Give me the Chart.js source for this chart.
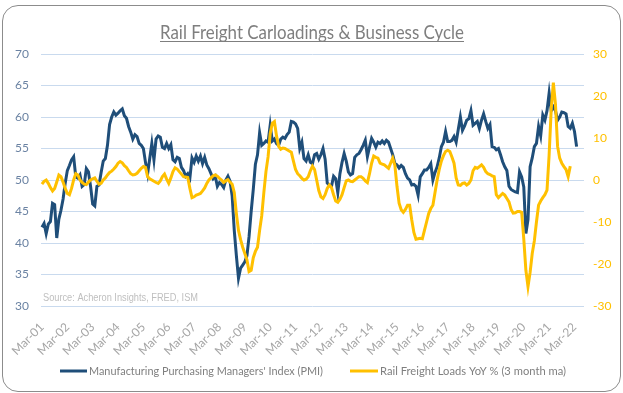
<!DOCTYPE html>
<html>
<head>
<meta charset="utf-8">
<script src="https://cdn.jsdelivr.net/npm/chart.js@4.4.0/dist/chart.umd.min.js"></script>
<style>
  html, body { margin: 0; padding: 0; background: #ffffff; }
  #wrap { position: relative; width: 623px; height: 393px; }
  #frame { position: absolute; left: 2px; top: 5px; width: 619px; height: 387px; box-sizing: border-box;
           border: 1.5px solid #8c8c8c; border-radius: 16px; pointer-events: none; }
  canvas { position: absolute; left: 0; top: 0; }
</style>
</head>
<body>
<div id="wrap">
  <canvas id="c" width="623" height="393"></canvas>
  <div id="frame"></div>
</div>
<script>
// ---- Data (monthly, first month = Mar-01) ----
const monthNames = ['Jan','Feb','Mar','Apr','May','Jun','Jul','Aug','Sep','Oct','Nov','Dec'];
const firstYear = 2001;
const firstMonth = 2;      // March
const monthCount = 257;    // Mar-01 .. Jul-22 (axis extent)
const categories = [];
for (let i = 0; i < monthCount; i++) {
  const m = (firstMonth + i) % 12;
  const y = firstYear + Math.floor((firstMonth + i) / 12);
  categories.push(monthNames[m] + '-' + String(y % 100).padStart(2, '0'));
}
const tickLabels = ['Mar-01','Mar-02','Mar-03','Mar-04','Mar-05','Mar-06','Mar-07','Mar-08','Mar-09','Mar-10','Mar-11',
                    'Mar-12','Mar-13','Mar-14','Mar-15','Mar-16','Mar-17','Mar-18','Mar-19','Mar-20','Mar-21','Mar-22'];

// Manufacturing PMI, Mar-01 .. Apr-22
const pmi = [
  42.5, 43.1, 41.5, 43.0, 43.4, 46.3, 46.1, 40.8, 43.8, 45.2, 47.0, 49.5,
  51.5, 52.3, 53.2, 53.7, 50.5, 50.3, 50.8, 49.0, 49.3, 51.8, 51.3, 49.0,
  46.2, 45.9, 49.0, 49.2, 51.2, 53.0, 53.4, 55.5, 58.8, 60.0, 60.8, 60.3,
  60.6, 61.0, 61.3, 60.2, 59.8, 58.5, 57.6, 56.5, 57.2, 56.9, 55.8, 55.5,
  55.0, 52.8, 51.0, 53.4, 55.8, 53.2, 56.5, 57.0, 56.8, 55.2, 55.0, 55.8,
  55.0, 55.6, 53.2, 52.9, 53.6, 53.4, 52.0, 51.5, 50.6, 51.0, 50.3, 53.5,
  52.8, 53.8, 53.0, 53.8, 52.6, 53.6, 52.4, 51.8, 51.0, 50.2, 50.6, 49.0,
  49.6, 49.3, 48.8, 50.0, 50.6, 49.8, 47.5, 42.0, 38.0, 34.4, 36.0, 36.5,
  37.0, 38.0, 41.0, 45.0, 48.5, 52.5, 54.0, 57.5, 55.5, 55.8, 56.2, 56.0,
  58.7, 56.2, 56.5, 55.8, 55.5, 56.5, 56.8, 56.6, 57.2, 57.6, 59.3, 59.2,
  58.9, 58.2, 55.0, 56.0, 53.4, 53.0, 54.0, 52.8, 52.6, 54.0, 54.2, 53.3,
  54.0, 55.0, 53.3, 49.5, 49.2, 49.0, 50.6, 50.2, 48.0, 51.0, 52.8, 54.2,
  53.0, 51.3, 50.8, 51.0, 53.6, 54.0, 54.2, 54.8, 55.5, 56.3, 53.7, 55.2,
  56.6, 56.0, 55.2, 56.0, 55.8, 56.2, 55.8, 56.3, 56.0, 55.0, 54.0, 52.6,
  52.4, 51.9, 52.3, 52.0, 51.0, 50.3, 50.0, 49.2, 49.3, 49.0, 47.6, 50.5,
  51.0, 51.6, 51.6, 52.0, 52.6, 50.0, 51.2, 52.1, 53.5, 55.3, 56.0, 57.7,
  56.1, 56.1, 56.3, 56.9, 56.0, 58.0, 60.0, 57.9, 58.6, 59.5, 59.7, 61.0,
  58.7, 59.0, 59.3, 58.2, 59.5, 60.5, 59.3, 58.2, 58.8, 55.3, 55.2, 54.8,
  55.0, 54.0, 52.9, 52.1, 51.5, 49.0, 48.5, 48.3, 48.1, 48.0, 51.3, 50.5,
  48.9, 41.5, 43.7, 52.1, 53.5, 55.3, 55.8, 58.5, 57.0, 60.3, 59.5, 61.0,
  63.8, 61.0, 61.6, 61.0, 59.5, 60.0, 60.8, 60.7, 60.5, 58.5, 58.2, 59.0,
  57.7, 55.3
];

// Rail freight loads YoY % (3 month ma), Mar-01 .. Jan-22
const rail = [
  -1.0, -0.3, 0.0, -0.8, -1.8, -2.6, -2.0, -0.5, 1.2, 0.8, -0.5, -2.0,
  -3.2, -3.5, -2.0, 0.0, 1.5, 1.2, 0.0, -0.6, -1.0, -1.1, -0.5, 0.0,
  0.3, 0.5, -0.3, -1.0, -0.8, 0.0, 0.5, 1.2, 1.8, 2.1, 2.6, 3.2,
  4.0, 4.4, 4.1, 3.4, 3.0, 2.2, 1.5, 1.2, 1.3, 1.6, 2.2, 2.8,
  3.2, 3.0, 0.8, 0.3, 0.0, -0.3, -0.6, -0.8, -0.2, 0.8, 1.4, 0.2,
  -0.8, 0.5, 2.0, 2.9, 2.6, 2.0, 1.4, 0.8, 0.7, 0.6, -2.0, -4.2,
  -4.0, -3.6, -3.4, -3.2, -2.6, -1.9, -0.8, 0.0, 0.5, 1.0, 1.2, 0.9,
  0.4, 0.0, -0.6, -0.2, 0.1, -0.5, -1.0, -3.0, -8.0, -12.0, -14.2, -16.0,
  -17.5, -19.0, -21.8, -21.5, -18.5, -17.0, -16.0, -12.0, -8.5, -3.0, 2.0, 5.5,
  11.0, 13.5, 13.9, 10.5, 8.0, 7.3, 7.6, 7.5, 7.2, 6.9, 6.6, 4.5,
  2.5, 1.5, 1.0, 0.4, 0.0, 0.2, 0.8, 2.2, 3.3, 2.5, 0.0, -2.5,
  -4.0, -4.4, -3.5, -2.0, -1.2, -1.8, -3.5, -5.0, -5.3, -4.6, -3.5, -1.8,
  -0.2, 0.0, -0.3, -0.4, 0.0, 0.4, 0.8, 0.8, 0.4, -0.2, -0.6, 1.5,
  4.0, 5.7, 5.4, 5.2, 4.0, 3.8, 3.6, 3.2, 2.8, 4.0, 5.2, 3.5,
  -1.5, -5.5, -7.1, -7.7, -7.0, -6.0, -6.0, -9.5, -12.5, -14.1, -14.0, -13.9,
  -14.0, -12.0, -10.0, -8.0, -6.8, -6.0, -3.0, 0.0, 2.5, 4.5, 5.8, 6.8,
  7.1, 6.8, 5.5, 4.0, 0.5, -1.2, -1.3, -0.8, -0.7, -1.2, -0.8, 0.0,
  2.2, 3.0, 2.8, 3.2, 3.6, 3.0, 2.0, 1.5, 1.3, 1.0, 0.8, -3.5,
  -4.2, -3.7, -3.2, -3.6, -4.4, -5.2, -7.0, -7.9, -7.8, -7.5, -7.5, -7.7,
  -14.0, -21.5, -25.4, -22.0, -17.5, -14.5, -10.0, -6.0, -5.0, -4.2, -3.5, -2.4,
  6.0, 17.0, 23.2, 18.0, 8.0, 5.2, 4.0, 3.2, 2.5, 0.8, 3.3
];

const leftTicks = [30, 35, 40, 45, 50, 55, 60, 65, 70];
const rightTicks = [-30, -20, -10, 0, 10, 20, 30];

const titleText = 'Rail Freight Carloadings & Business Cycle';
const sourceText = 'Source: Acheron Insights, FRED, ISM';
const seriesNames = ["Manufacturing Purchasing Managers' Index (PMI)", 'Rail Freight Loads YoY % (3 month ma)'];
const seriesColors = ['#1f4e79', '#ffc000'];

// ---- helpers ----
function fitText(ctx, text, x, y, width, font, color) {
  ctx.save();
  ctx.font = font;
  ctx.fillStyle = color;
  ctx.textAlign = 'left';
  ctx.textBaseline = 'alphabetic';
  const w = ctx.measureText(text).width;
  ctx.translate(x, y);
  ctx.scale(width / w, 1);
  ctx.fillText(text, 0, 0);
  ctx.restore();
}

const decorations = {
  id: 'decorations',
  afterDraw(chart) {
    const ctx = chart.ctx;
    // title
    fitText(ctx, titleText, 160, 39, 304, '19px Lato', '#7f7f7f');
    ctx.save();
    ctx.strokeStyle = '#7f7f7f';
    ctx.lineWidth = 1;
    ctx.beginPath();
    ctx.moveTo(160, 41.5);
    ctx.lineTo(464, 41.5);
    ctx.stroke();
    ctx.restore();
    // source
    fitText(ctx, sourceText, 43, 301, 155, '10px "Liberation Sans"', '#bfbfbf');
    // legend
    ctx.save();
    ctx.lineWidth = 3;
    ctx.strokeStyle = seriesColors[0];
    ctx.beginPath(); ctx.moveTo(60, 371); ctx.lineTo(87, 371); ctx.stroke();
    ctx.strokeStyle = seriesColors[1];
    ctx.beginPath(); ctx.moveTo(350, 371); ctx.lineTo(378, 371); ctx.stroke();
    ctx.restore();
    fitText(ctx, seriesNames[0], 89, 375, 234, '12px Lato', '#7f7f7f');
    fitText(ctx, seriesNames[1], 380, 375, 186, '12px Lato', '#7f7f7f');
  }
};

Chart.defaults.font.family = 'Lato';

new Chart(document.getElementById('c'), {
  type: 'line',
  data: {
    labels: categories,
    datasets: [
      {
        label: seriesNames[0],
        data: pmi,
        yAxisID: 'yL',
        borderColor: seriesColors[0],
        backgroundColor: seriesColors[0],
        borderWidth: 3,
        pointRadius: 0,
        tension: 0,
        order: 2
      },
      {
        label: seriesNames[1],
        data: rail,
        yAxisID: 'yR',
        borderColor: seriesColors[1],
        backgroundColor: seriesColors[1],
        borderWidth: 3,
        pointRadius: 0,
        tension: 0,
        order: 1
      }
    ]
  },
  options: {
    responsive: false,
    animation: false,
    devicePixelRatio: 1,
    layout: { padding: { left: 0, right: 0, top: 54, bottom: 37 } },
    plugins: {
      legend: { display: false },
      title: { display: false },
      tooltip: { enabled: false }
    },
    scales: {
      x: {
        type: 'category',
        offset: true,
        grid: { display: false, drawTicks: false },
        border: { display: false },
        ticks: {
          autoSkip: false,
          minRotation: 45,
          maxRotation: 45,
          padding: 14,
          color: '#a6a6a6',
          font: { size: 12, family: 'Lato' },
          callback: function (value, index) {
            const lbl = categories[index];
            return tickLabels.includes(lbl) ? lbl : null;
          }
        },
        afterFit: function (scale) { scale.height = 50; }
      },
      yL: {
        position: 'left',
        min: leftTicks[0],
        max: leftTicks[leftTicks.length - 1],
        afterBuildTicks: function (scale) { scale.ticks = leftTicks.map(v => ({ value: v })); },
        grid: { color: '#c9daee', lineWidth: 1, drawTicks: false },
        border: { display: false },
        ticks: { color: '#6b83a3', padding: 12, font: { size: 12, family: 'Lato' } },
        afterFit: function (scale) { scale.width = 40; }
      },
      yR: {
        position: 'right',
        min: rightTicks[0],
        max: rightTicks[rightTicks.length - 1],
        afterBuildTicks: function (scale) { scale.ticks = rightTicks.map(v => ({ value: v })); },
        grid: { drawOnChartArea: false, drawTicks: false },
        border: { display: false },
        ticks: { color: '#ffc000', padding: 9, font: { size: 12, family: 'Lato' } },
        afterFit: function (scale) { scale.width = 39; }
      }
    }
  },
  plugins: [decorations]
});
</script>
</body>
</html>
